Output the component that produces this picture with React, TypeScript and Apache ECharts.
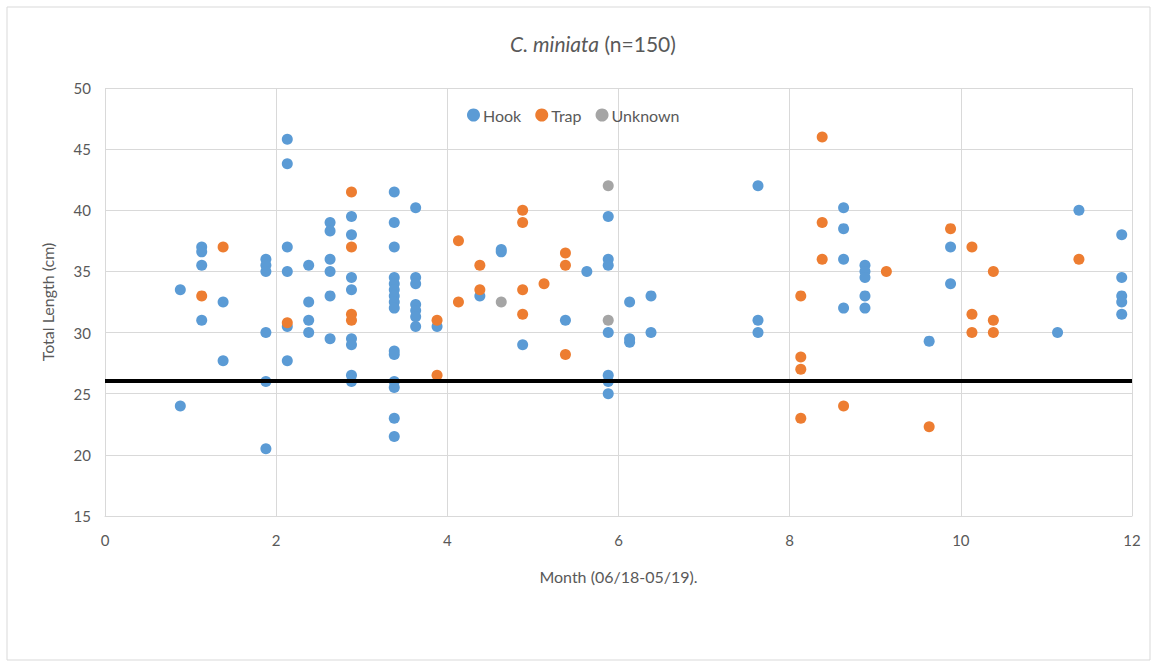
import React, { useEffect, useRef } from "react";
import * as echarts from "echarts";

const xTicks = [0, 2, 4, 6, 8, 10, 12];
const yTicks = [15, 20, 25, 30, 35, 40, 45, 50];

const hookPoints: [number, number][] = [
  [0.88, 33.5], [0.88, 24],
  [1.13, 37], [1.13, 36.6], [1.13, 35.5], [1.13, 31],
  [1.38, 32.5], [1.38, 27.7],
  [1.88, 36], [1.88, 35.5], [1.88, 35], [1.88, 30], [1.88, 26], [1.88, 20.5],
  [2.13, 45.8], [2.13, 43.8], [2.13, 37], [2.13, 35], [2.13, 30.5], [2.13, 27.7],
  [2.38, 35.5], [2.38, 32.5], [2.38, 31], [2.38, 30],
  [2.63, 39], [2.63, 38.3], [2.63, 36], [2.63, 35], [2.63, 33], [2.63, 29.5],
  [2.88, 39.5], [2.88, 38], [2.88, 34.5], [2.88, 33.5], [2.88, 29.5], [2.88, 29], [2.88, 26.5], [2.88, 26],
  [3.38, 41.5], [3.38, 39], [3.38, 37], [3.38, 34.5], [3.38, 34], [3.38, 33.5], [3.38, 33], [3.38, 32.5], [3.38, 32],
  [3.38, 28.5], [3.38, 28.2], [3.38, 26], [3.38, 25.5], [3.38, 23], [3.38, 21.5],
  [3.63, 40.2], [3.63, 34.5], [3.63, 34], [3.63, 32.3], [3.63, 31.8], [3.63, 31.3], [3.63, 30.5],
  [3.88, 30.5],
  [4.38, 33],
  [4.63, 36.6], [4.63, 36.8],
  [4.88, 29],
  [5.38, 31],
  [5.63, 35],
  [5.88, 39.5], [5.88, 36], [5.88, 35.5], [5.88, 30], [5.88, 26.5], [5.88, 26], [5.88, 25],
  [6.13, 32.5], [6.13, 29.5], [6.13, 29.2],
  [6.38, 33], [6.38, 30],
  [7.63, 42], [7.63, 31], [7.63, 30],
  [8.63, 40.2], [8.63, 38.5], [8.63, 36], [8.63, 32],
  [8.88, 35.5], [8.88, 35], [8.88, 34.5], [8.88, 33], [8.88, 32],
  [9.63, 29.3],
  [9.88, 37], [9.88, 34],
  [11.13, 30],
  [11.38, 40],
  [11.88, 38], [11.88, 34.5], [11.88, 33], [11.88, 32.5], [11.88, 31.5],
];

const trapPoints: [number, number][] = [
  [1.13, 33], [1.38, 37], [2.13, 30.8],
  [2.88, 41.5], [2.88, 37], [2.88, 31.5], [2.88, 31],
  [3.88, 31], [3.88, 26.5],
  [4.13, 37.5], [4.13, 32.5],
  [4.38, 35.5], [4.38, 33.5],
  [4.88, 40], [4.88, 39], [4.88, 33.5], [4.88, 31.5],
  [5.13, 34],
  [5.38, 36.5], [5.38, 35.5], [5.38, 28.2],
  [8.13, 33], [8.13, 28], [8.13, 27], [8.13, 23],
  [8.38, 46], [8.38, 39], [8.38, 36],
  [8.63, 24],
  [9.13, 35],
  [9.63, 22.3],
  [9.88, 38.5],
  [10.13, 37], [10.13, 31.5], [10.13, 30],
  [10.38, 35], [10.38, 31], [10.38, 30],
  [11.38, 36],
];

const unknownPoints: [number, number][] = [
  [4.63, 32.5], [5.88, 42], [5.88, 31],
];

const thresholdLength = 26.1;

const FONT = "Lato, 'Open Sans', sans-serif";
const TEXT = "#595959";
const GRID = "#d9d9d9";

export default function App() {
  const ref = useRef<HTMLDivElement>(null);

  useEffect(() => {
    if (!ref.current) return;
    const chart = echarts.init(ref.current, undefined, { renderer: "svg" });
    chart.setOption({
      animation: false,
      backgroundColor: "#ffffff",
      textStyle: { fontFamily: FONT },
      title: {
        text: "{i|C. miniata} (n=150)",
        left: 588,
        textAlign: "center",
        top: 28,
        textStyle: {
          fontFamily: FONT,
          fontSize: 21,
          fontWeight: "normal",
          color: TEXT,
          rich: {
            i: { fontFamily: FONT, fontSize: 21, fontStyle: "italic", color: TEXT },
          },
        },
      },
      graphic: [
        {
          type: "rect",
          shape: { x: 7, y: 7, width: 1143, height: 653 },
          style: { fill: "none", stroke: GRID, lineWidth: 1 },
          silent: true,
        },
      ],
      legend: {
        left: 462,
        top: 102,
        icon: "circle",
        itemWidth: 13,
        itemHeight: 13,
        itemGap: 14,
        textStyle: { fontFamily: FONT, fontSize: 16, color: TEXT, padding: [0, 0, 0, -2] },
        data: ["Hook", "Trap", "Unknown"],
      },
      grid: { left: 105, right: 22, top: 88, bottom: 147, containLabel: false },
      xAxis: {
        type: "value",
        min: xTicks[0],
        max: xTicks[xTicks.length - 1],
        interval: 2,
        name: "Month (06/18-05/19).",
        nameLocation: "middle",
        nameGap: 52,
        nameTextStyle: { fontFamily: FONT, fontSize: 16, color: TEXT },
        axisLine: { show: true, lineStyle: { color: GRID } },
        axisTick: { show: false },
        axisLabel: { fontFamily: FONT, fontSize: 15, color: TEXT, margin: 16 },
        splitLine: { show: true, lineStyle: { color: GRID } },
      },
      yAxis: {
        type: "value",
        min: yTicks[0],
        max: yTicks[yTicks.length - 1],
        interval: 5,
        name: "Total Length (cm)",
        nameLocation: "middle",
        nameGap: 50,
        nameTextStyle: { fontFamily: FONT, fontSize: 16, color: TEXT },
        axisLine: { show: false },
        axisTick: { show: false },
        axisLabel: { fontFamily: FONT, fontSize: 15, color: TEXT, margin: 14 },
        splitLine: { show: true, lineStyle: { color: GRID } },
      },
      series: [
        {
          name: "Hook",
          type: "scatter",
          data: hookPoints,
          symbolSize: 11,
          itemStyle: { color: "#5B9BD5", opacity: 1 },
          markLine: {
            silent: true,
            symbol: ["none", "none"],
            label: { show: false },
            lineStyle: { color: "#000000", width: 4, type: "solid" },
            data: [{ yAxis: thresholdLength }],
            z: 10,
          },
          z: 3,
        },
        {
          name: "Trap",
          type: "scatter",
          data: trapPoints,
          symbolSize: 11,
          itemStyle: { color: "#ED7D31", opacity: 1 },
          z: 3,
        },
        {
          name: "Unknown",
          type: "scatter",
          data: unknownPoints,
          symbolSize: 11,
          itemStyle: { color: "#A5A5A5", opacity: 1 },
          z: 3,
        },
      ],
    });
    return () => chart.dispose();
  }, []);

  return (
    <div
      ref={ref}
      style={{ position: "fixed", left: 0, top: 0, width: 1154, height: 663 }}
    />
  );
}
